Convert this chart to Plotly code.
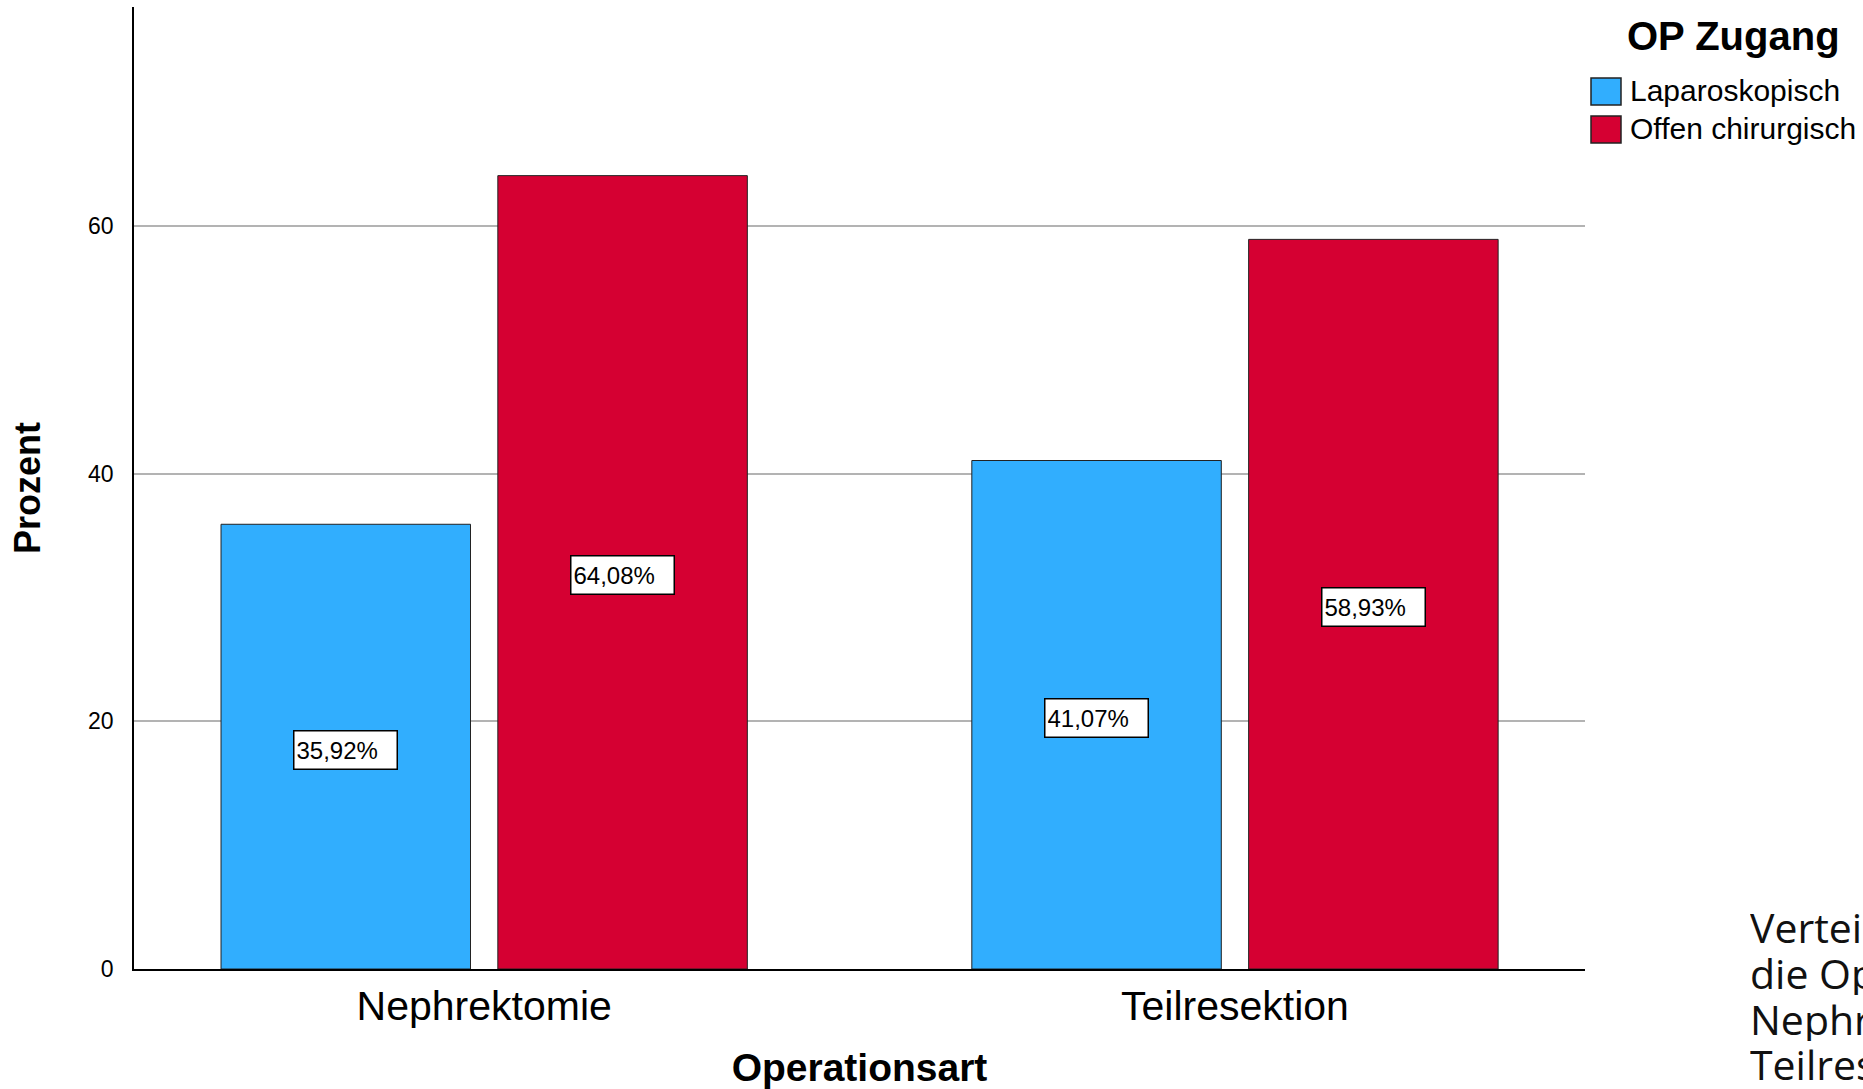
import plotly.graph_objects as go

# ---- data ----
categories = ["Nephrektomie", "Teilresektion"]
series_names = ["Laparoskopisch", "Offen chirurgisch"]
laparoskopisch = [35.92, 41.07]
offen_chirurgisch = [64.08, 58.93]
series_values = [laparoskopisch, offen_chirurgisch]
y_ticks = [0, 20, 40, 60]
legend_title = "OP Zugang"
caption_lines = ["Verteilung", "die Operationsarten", "Nephrektomie", "Teilresektion"]

# ---- style ----
colors = ["#31aefe", "#d50032"]
BAR_W = 0.3323
offsets = [-0.0182 - BAR_W, 0.0182]
FONT = "Liberation Sans, Arial, sans-serif"

W, H = 1863, 1089
ML, MR, MT, MB = 134, 278, 7, 120
PW, PH = W - ML - MR, H - MT - MB


def px_x(p):
    return (p - ML) / PW


def px_y(p):
    return (H - MB - p) / PH


fig = go.Figure()
for name, vals, col, off in zip(series_names, series_values, colors, offsets):
    fig.add_trace(go.Bar(
        x=categories, y=vals, name=name,
        width=[BAR_W] * len(vals), offset=[off] * len(vals),
        marker=dict(color=col, line=dict(color="#222222", width=1)),
        hoverinfo="x+y+name", showlegend=False,
    ))

annotations = []
for vals, off in zip(series_values, offsets):
    for j, v in enumerate(vals):
        annotations.append(dict(
            x=j + off + BAR_W / 2, y=v / 2, xref="x", yref="y", yshift=-3,
            text=f"{v:.2f}%".replace(".", ","), showarrow=False,
            font=dict(family=FONT, size=24, color="black"),
            bgcolor="white", bordercolor="black", borderwidth=1.5,
            borderpad=2, width=98, height=33, align="left",
        ))

# legend (drawn as swatches + labels to match the large swatches of the original)
shapes = []
annotations.append(dict(
    x=px_x(1625), y=px_y(36), xref="paper", yref="paper",
    xanchor="left", yanchor="middle", showarrow=False,
    text=f"<b>{legend_title}</b>",
    font=dict(family=FONT, size=40, color="black"),
))
item_centers = [91.5, 129.5]
for name, col, cy in zip(series_names, colors, item_centers):
    shapes.append(dict(
        type="rect", xref="paper", yref="paper",
        x0=px_x(1591), x1=px_x(1621), y0=px_y(cy - 13.5), y1=px_y(cy + 13.5),
        fillcolor=col, line=dict(color="#222222", width=1.5),
    ))
    annotations.append(dict(
        x=px_x(1628), y=px_y(cy - 1), xref="paper", yref="paper",
        xanchor="left", yanchor="middle", showarrow=False, text=name,
        font=dict(family=FONT, size=30, color="black"),
    ))

# caption at the bottom right (cut off by the page edge)
line_centers_px = [927, 973, 1019, 1064]
for txt, cy in zip(caption_lines, line_centers_px):
    annotations.append(dict(
        x=px_x(1749), y=px_y(cy), xref="paper", yref="paper",
        xanchor="left", yanchor="middle", text=txt, showarrow=False,
        height=44, valign="middle", borderpad=0,
        font=dict(family="Open Sans, Noto Sans, sans-serif", size=41, color="#111111"),
    ))

fig.update_layout(
    width=W, height=H,
    margin=dict(l=ML, r=MR, t=MT, b=MB, pad=0, autoexpand=False),
    paper_bgcolor="white", plot_bgcolor="white",
    barmode="group",
    font=dict(family=FONT, color="black"),
    showlegend=False,
    annotations=annotations,
    shapes=shapes,
    xaxis=dict(
        type="category", range=[-0.4664, 1.4662], automargin=False,
        showline=True, linecolor="black", linewidth=1.5,
        ticks="", showgrid=False,
        tickfont=dict(family=FONT, size=41, color="black"),
        ticklabelstandoff=0,
        title=dict(text="<b>Operationsart</b>", standoff=31,
                   font=dict(family=FONT, size=39, color="black")),
    ),
    yaxis=dict(
        range=[0, 77.7], tickvals=y_ticks, ticktext=[str(t) for t in y_ticks],
        automargin=False,
        showgrid=True, gridcolor="#b3b3b3", gridwidth=1.5,
        showline=True, linecolor="black", linewidth=1.5,
        zeroline=False, ticks="",
        tickfont=dict(family=FONT, size=23, color="black"),
        ticklabelstandoff=14,
        title=dict(text="<b>Prozent</b>", standoff=36,
                   font=dict(family=FONT, size=36, color="black")),
    ),
)

fig.write_html(
    "out.html",
    config={"displayModeBar": False},
    post_script="document.body.style.margin='0px';document.body.style.overflow='hidden';",
)
